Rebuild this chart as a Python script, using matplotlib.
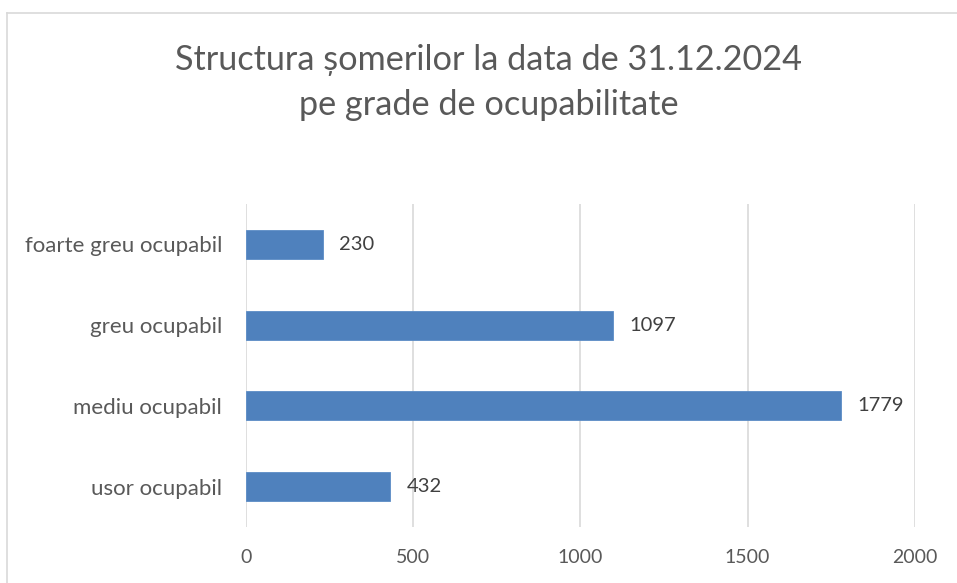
import matplotlib.pyplot as plt
from matplotlib.lines import Line2D

categories = ["usor ocupabil", "mediu ocupabil", "greu ocupabil", "foarte greu ocupabil"]
values = [432, 1779, 1097, 230]
xticks = [0, 500, 1000, 1500, 2000]

plt.rcParams['font.family'] = ['Lato', 'DejaVu Sans']

fig = plt.figure(figsize=(9.57, 5.83), dpi=100)
ax = fig.add_axes([0.2567, 0.096, 0.6994, 0.554])

bars = ax.barh(range(len(categories)), values, height=0.36, color='#4F81BD',
               edgecolor='#5B8CC6', linewidth=0.6, zorder=3)
for b, v in zip(bars, values):
    ax.text(b.get_width() + 50, b.get_y() + b.get_height() / 2, str(v),
            va='center', ha='left', fontsize=14.5, color='#404040')

ax.set_xlim(0, 2000)
ax.set_ylim(-0.5, len(categories) - 0.5)
ax.set_xticks(xticks)
ax.set_yticks(range(len(categories)))
ax.set_yticklabels(categories)
ax.tick_params(axis='both', length=0, labelcolor='#595959')
ax.tick_params(axis='x', pad=16, labelsize=14)
ax.tick_params(axis='y', pad=17, labelsize=16)
ax.grid(axis='x', color='#D9D9D9', linewidth=1.2, zorder=0)
for s in ax.spines.values():
    s.set_visible(False)

fig.text(0.5105, 0.858, "Structura șomerilor la data de 31.12.2024\npe grade de ocupabilitate",
         ha='center', va='center', fontsize=24.7, color='#595959', linespacing=1.5)

# chart area border (left and top edges only visible)
fig.add_artist(Line2D([0.0073, 0.0073], [0, 0.978], transform=fig.transFigure,
                      color='#D9D9D9', linewidth=1.2))
fig.add_artist(Line2D([0.0073, 1], [0.978, 0.978], transform=fig.transFigure,
                      color='#D9D9D9', linewidth=1.2))

fig.savefig("out.png", dpi=100)
